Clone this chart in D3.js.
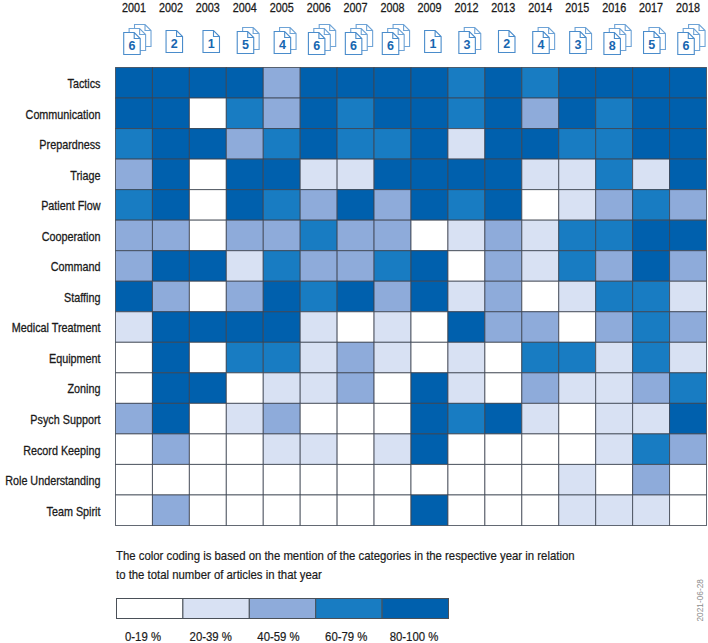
<!DOCTYPE html>
<html><head><meta charset="utf-8">
<script src="https://cdn.jsdelivr.net/npm/d3@7"></script>
<style>
html,body{margin:0;padding:0;background:#fff}
svg{display:block}
text{font-family:"Liberation Sans",sans-serif;fill:#1a1a1a}
.domain{display:none}
</style></head><body>
<script>
const years=["2001","2002","2003","2004","2005","2006","2007","2008","2009","2012","2013","2014","2015","2016","2017","2018"];
const articleCounts=[6,2,1,5,4,6,6,6,1,3,2,4,3,8,5,6];
const categories=["Tactics","Communication","Prepardness","Triage","Patient Flow","Cooperation","Command","Staffing","Medical Treatment","Equipment","Zoning","Psych Support","Record Keeping","Role Understanding","Team Spirit"];
const tactics=[4,4,4,4,2,4,4,4,4,3,4,3,4,4,4,4];
const communication=[4,4,0,3,2,4,3,4,4,3,4,2,4,3,4,4];
const prepardness=[3,4,4,2,3,4,3,3,4,1,4,4,3,3,4,4];
const triage=[2,4,0,4,4,1,1,4,4,4,4,1,1,3,1,4];
const patientFlow=[3,4,0,4,3,2,4,2,4,3,4,0,1,2,3,2];
const cooperation=[2,2,0,2,2,3,2,2,0,1,2,1,3,3,4,4];
const command=[2,4,4,1,3,2,2,3,4,0,2,1,3,2,4,2];
const staffing=[4,2,0,2,4,3,4,2,4,1,2,0,1,3,3,1];
const medicalTreatment=[1,4,4,4,4,1,0,1,0,4,2,2,0,2,3,2];
const equipment=[0,4,0,3,3,1,2,1,0,1,0,3,3,1,3,1];
const zoning=[0,4,4,0,1,1,2,0,4,1,0,2,1,1,2,3];
const psychSupport=[2,4,0,1,2,0,0,0,4,3,4,1,0,1,1,4];
const recordKeeping=[0,2,0,0,1,1,0,1,4,0,0,0,0,1,3,2];
const roleUnderstanding=[0,0,0,0,0,0,0,0,0,0,0,0,1,0,2,0];
const teamSpirit=[0,2,0,0,0,0,0,0,4,0,0,0,1,1,1,0];
const bins=[0,1,2,3,4];
const binLabels=["0-19 %","20-39 %","40-59 %","60-79 %","80-100 %"];
const binColors=["#ffffff","#d8e1f3","#8eabda","#187cc2","#0060ad"];
const note=["The color coding is based on the mention of the categories in the respective year in relation","to the total number of articles in that year"];
const stamp="2021-06-28";

const rows=[tactics,communication,prepardness,triage,patientFlow,cooperation,command,staffing,medicalTreatment,equipment,zoning,psychSupport,recordKeeping,roleUnderstanding,teamSpirit];
const W=708,H=643;
const narrow=.83, narrowNote=.91;
const svg=d3.select("body").append("svg").attr("width",W).attr("height",H);
const x=d3.scaleBand().domain(years).range([115.5,706.5]);
const y=d3.scaleBand().domain(categories).range([67.5,525.5]);
const color=d3.scaleOrdinal().domain(bins).range(binColors);

// cells
const cells=rows.flatMap((r,i)=>r.map((v,j)=>({cat:categories[i],year:years[j],v})));
svg.append("g").selectAll("rect").data(cells).join("rect")
  .attr("x",d=>x(d.year)).attr("y",d=>y(d.cat))
  .attr("width",x.bandwidth()).attr("height",y.bandwidth())
  .attr("fill",d=>color(d.v)).attr("stroke","#3c4450").attr("stroke-width",1).attr("stroke-opacity",.8);

// axes
const gy=svg.append("g").attr("transform","translate(100.5,1.2)").call(d3.axisLeft(y).tickSize(0).tickPadding(0));
gy.selectAll("text").attr("x",0).attr("transform",`scale(${narrow},1)`)
  .style("font-size","13px").style("fill","#1a1a1a").attr("stroke","#1a1a1a").attr("stroke-width",.3);
const gx=svg.append("g").attr("transform","translate(0,12)").call(d3.axisTop(x).tickSize(0).tickPadding(0));
gx.selectAll("text").attr("y",0).attr("dy",0).attr("transform",`scale(${narrow},1)`)
  .style("font-size","13px").style("fill","#1a1a1a").attr("stroke","#1a1a1a").attr("stroke-width",.3);

// document icons
const pageW=16.5,pageH=22,fold=6,stepX=5.4,stepY=4;
const pagesFor=n=>n<=2?1:n<=5?2:3;
const pagePath=`M0,0H${pageW-fold}L${pageW},${fold}V${pageH}H0Z M${pageW-fold},0V${fold}H${pageW}`;
const icons=svg.append("g").selectAll("g").data(years.map((yr,i)=>({yr,n:articleCounts[i]}))).join("g")
  .attr("transform",d=>{
    const p=pagesFor(d.n),w=pageW+(p-1)*stepX;
    return `translate(${x(d.yr)+x.bandwidth()/2-w/2+3.4},${29.5+p})`;
  });
icons.each(function(d){
  const g=d3.select(this),p=pagesFor(d.n);
  d3.range(p-1,-1,-1).forEach(k=>{
    g.append("path").attr("d",pagePath).attr("transform",`translate(${k*stepX},${-k*stepY})`)
      .attr("fill","#fff").attr("stroke",k?"#6ea3d6":"#4a8ccb").attr("stroke-width",1.1);
  });
  g.append("text").attr("x",pageW/2).attr("y",17.5).attr("text-anchor","middle")
    .style("font-size","12.5px").style("font-weight","700").style("fill","#1766b0").text(d.n);
});

// note
svg.append("g").selectAll("text").data(note).join("text")
  .attr("transform",(d,i)=>`translate(116,${560+i*19}) scale(${narrowNote},1)`)
  .style("font-size","12.5px").attr("stroke","#1a1a1a").attr("stroke-width",.2).text(d=>d);

// legend
const lx=d3.scaleBand().domain(bins).range([116,448]);
const labelX=d3.scalePoint().domain(bins).range([143,414]);
svg.append("g").selectAll("rect").data(bins).join("rect")
  .attr("x",d=>lx(d)+.5).attr("y",598.5).attr("width",lx.bandwidth()).attr("height",20)
  .attr("fill",d=>color(d)).attr("stroke","#4a5058").attr("stroke-width",1);
svg.append("g").selectAll("text").data(bins).join("text")
  .attr("transform",d=>`translate(${labelX(d)},641) scale(${narrowNote},1)`).attr("text-anchor","middle")
  .style("font-size","12.5px").attr("stroke","#1a1a1a").attr("stroke-width",.2).text(d=>binLabels[d]);

// stamp
svg.append("text").attr("transform","translate(703,621.5) rotate(-90)")
  .style("font-size","8.3px").style("fill","#8c8c8c").text(stamp);
</script>
</body></html>
